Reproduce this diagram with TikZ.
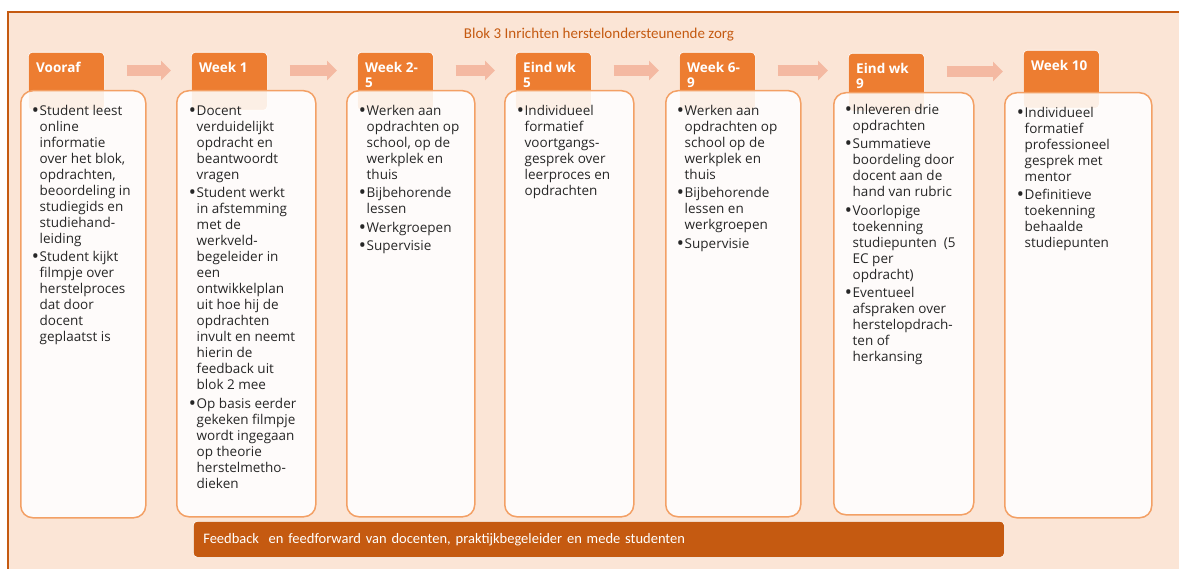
\documentclass[tikz,border=0pt]{standalone}
\usepackage{fontspec}
\setmainfont{Open Sans}
\newfontfamily\calfont{Carlito}
\usetikzlibrary{arrows.meta}

\definecolor{blokbg}{HTML}{FBE5D6}
\definecolor{blokrand}{HTML}{C55A11}
\definecolor{taboranje}{HTML}{ED7D31}
\definecolor{boxrand}{HTML}{F3A065}
\definecolor{pijlroze}{HTML}{F4B9A2}
\definecolor{tekstgrijs}{HTML}{262626}

\newcommand{\bol}{\makebox[6.5pt][l]{\kern-0.5pt{\bfseries\fontsize{15}{16}\selectfont\textbullet}}}

\begin{document}
\begin{tikzpicture}[x=1pt,y=-1pt,
	tab/.style={anchor=north west,fill=taboranje,draw=white,line width=0.6pt,rounded corners=4pt,minimum width=76pt,minimum height=58pt,inner sep=0pt},
	tablbl/.style={anchor=north west,inner sep=0pt,align=left,text=white,font=\bfseries\fontsize{13.5}{15}\selectfont},
	weekbox/.style={anchor=north west,draw=boxrand,line width=1.5pt,fill=white,fill opacity=0.88,rounded corners=12pt,inner sep=0pt},
	weektxt/.style={anchor=north west,inner sep=0pt,text=tekstgrijs,font=\fontsize{13.5}{16}\selectfont},
	flow/.style={draw=pijlroze,line width=11pt,-{Triangle[length=10pt,width=19pt]},shorten <=22pt,shorten >=20pt}]
	\useasboundingbox (0,0) rectangle (1179,569);
	% achtergrond
	\fill[blokbg] (8,12) rectangle (1179,569);
	\draw[blokrand,line width=1.5pt] (8,569) -- (8,12) -- (1179,12);
	\node[text=blokrand,font=\calfont\fontsize{15}{16}\selectfont] (titel) at (599,35) {Blok 3 Inrichten herstelondersteunende zorg};

	% tabs
	\node[tab] (t1) at (28,52) {};
	\node[tablbl] (l1) at ([shift={(8,10)}]t1.north west) {Vooraf};
	\node[tab] (t2) at (191,52) {};
	\node[tablbl] (l2) at ([shift={(8,10)}]t2.north west) {Week 1};
	\node[tab] (t3) at (357,52) {};
	\node[tablbl] (l3) at ([shift={(8,10)}]t3.north west) {Week 2-\\5};
	\node[tab] (t4) at (515,52) {};
	\node[tablbl] (l4) at ([shift={(8,10)}]t4.north west) {Eind wk\\5};
	\node[tab] (t5) at (679,52) {};
	\node[tablbl] (l5) at ([shift={(8,10)}]t5.north west) {Week 6-\\9};
	\node[tab] (t6) at (848,53) {};
	\node[tablbl] (l6) at ([shift={(8,10)}]t6.north west) {Eind wk\\9};
	\node[tab] (t7) at (1023,50) {};
	\node[tablbl] (l7) at ([shift={(8,10)}]t7.north west) {Week 10};

	% kolommen
	\node[weekbox,minimum width=125pt,minimum height=427pt] (b1) at (20,90) {};
	\node[weekbox,minimum width=139pt,minimum height=426pt] (b2) at (176,90) {};
	\node[weekbox,minimum width=128pt,minimum height=426pt] (b3) at (346,90) {};
	\node[weekbox,minimum width=129pt,minimum height=426pt] (b4) at (504,90) {};
	\node[weekbox,minimum width=135pt,minimum height=426pt] (b5) at (665,90) {};
	\node[weekbox,minimum width=140pt,minimum height=422pt] (b6) at (833,92) {};
	\node[weekbox,minimum width=147pt,minimum height=425pt] (b7) at (1004,92) {};

	\node[weektxt] (x1) at ([shift={(13,14)}]b1.north west) {\begin{tabular}{@{}l@{}l@{}}
		\bol & Student leest\\ & online\\ & informatie\\ & over het blok,\\ & opdrachten,\\ & beoordeling in\\ & studiegids en\\ & studiehand-\\ & leiding\\[2.5pt]
		\bol & Student kijkt\\ & filmpje over\\ & herstelproces\\ & dat door\\ & docent\\ & geplaatst is
	\end{tabular}};
	\node[weektxt] (x2) at ([shift={(14,14)}]b2.north west) {\begin{tabular}{@{}l@{}l@{}}
		\bol & Docent\\ & verduidelijkt\\ & opdracht en\\ & beantwoordt\\ & vragen\\[2.5pt]
		\bol & Student werkt\\ & in afstemming\\ & met de\\ & werkveld-\\ & begeleider in\\ & een\\ & ontwikkelplan\\ & uit hoe hij de\\ & opdrachten\\ & invult en neemt\\ & hierin de\\ & feedback uit\\ & blok 2 mee\\[2.5pt]
		\bol & Op basis eerder\\ & gekeken filmpje\\ & wordt ingegaan\\ & op theorie\\ & herstelmetho-\\ & dieken
	\end{tabular}};
	\node[weektxt] (x3) at ([shift={(14,14)}]b3.north west) {\begin{tabular}{@{}l@{}l@{}}
		\bol & Werken aan\\ & opdrachten op\\ & school, op de\\ & werkplek en\\ & thuis\\[2.5pt]
		\bol & Bijbehorende\\ & lessen\\[2.5pt]
		\bol & Werkgroepen\\[2.5pt]
		\bol & Supervisie
	\end{tabular}};
	\node[weektxt] (x4) at ([shift={(14,14)}]b4.north west) {\begin{tabular}{@{}l@{}l@{}}
		\bol & Individueel\\ & formatief\\ & voortgangs-\\ & gesprek over\\ & leerproces en\\ & opdrachten
	\end{tabular}};
	\node[weektxt] (x5) at ([shift={(13,14)}]b5.north west) {\begin{tabular}{@{}l@{}l@{}}
		\bol & Werken aan\\ & opdrachten op\\ & school op de\\ & werkplek en\\ & thuis\\[2.5pt]
		\bol & Bijbehorende\\ & lessen en\\ & werkgroepen\\[2.5pt]
		\bol & Supervisie
	\end{tabular}};
	\node[weektxt] (x6) at ([shift={(13,11)}]b6.north west) {\begin{tabular}{@{}l@{}l@{}}
		\bol & Inleveren drie\\ & opdrachten\\[2.5pt]
		\bol & Summatieve\\ & boordeling door\\ & docent aan de\\ & hand van rubric\\[2.5pt]
		\bol & Voorlopige\\ & toekenning\\ & studiepunten\ \ (5\\ & EC per\\ & opdracht)\\[2.5pt]
		\bol & Eventueel\\ & afspraken over\\ & herstelopdrach-\\ & ten of\\ & herkansing
	\end{tabular}};
	\node[weektxt] (x7) at ([shift={(14,14)}]b7.north west) {\begin{tabular}{@{}l@{}l@{}}
		\bol & Individueel\\ & formatief\\ & professioneel\\ & gesprek met\\ & mentor\\[2.5pt]
		\bol & Definitieve\\ & toekenning\\ & behaalde\\ & studiepunten
	\end{tabular}};

	% pijlen tussen de tabs
	\draw[flow] ([yshift=-18.5pt]t1.north east) -- ([yshift=-18.5pt]t1.north east -| t2.west);
	\draw[flow] ([yshift=-18.5pt]t2.north east) -- ([yshift=-18.5pt]t2.north east -| t3.west);
	\draw[flow] ([yshift=-18.5pt]t3.north east) -- ([yshift=-18.5pt]t3.north east -| t4.west);
	\draw[flow] ([yshift=-18.5pt]t4.north east) -- ([yshift=-18.5pt]t4.north east -| t5.west);
	\draw[flow] ([yshift=-18.5pt]t5.north east) -- ([yshift=-18.5pt]t5.north east -| t6.west);
	\draw[flow] ([yshift=-18.5pt]t6.north east) -- ([yshift=-18.5pt]t6.north east -| t7.west);

	% feedback balk
	\node[anchor=north west,fill=blokrand,draw=white,line width=0.6pt,rounded corners=4pt,minimum width=811pt,minimum height=36pt,inner xsep=10pt,text width=791pt,align=left,text=white,font=\calfont\fontsize{14.5}{16}\selectfont] (balk) at (193,521) {Feedback\ \ en feedforward van docenten, praktijkbegeleider en mede studenten};
\end{tikzpicture}
\end{document}
